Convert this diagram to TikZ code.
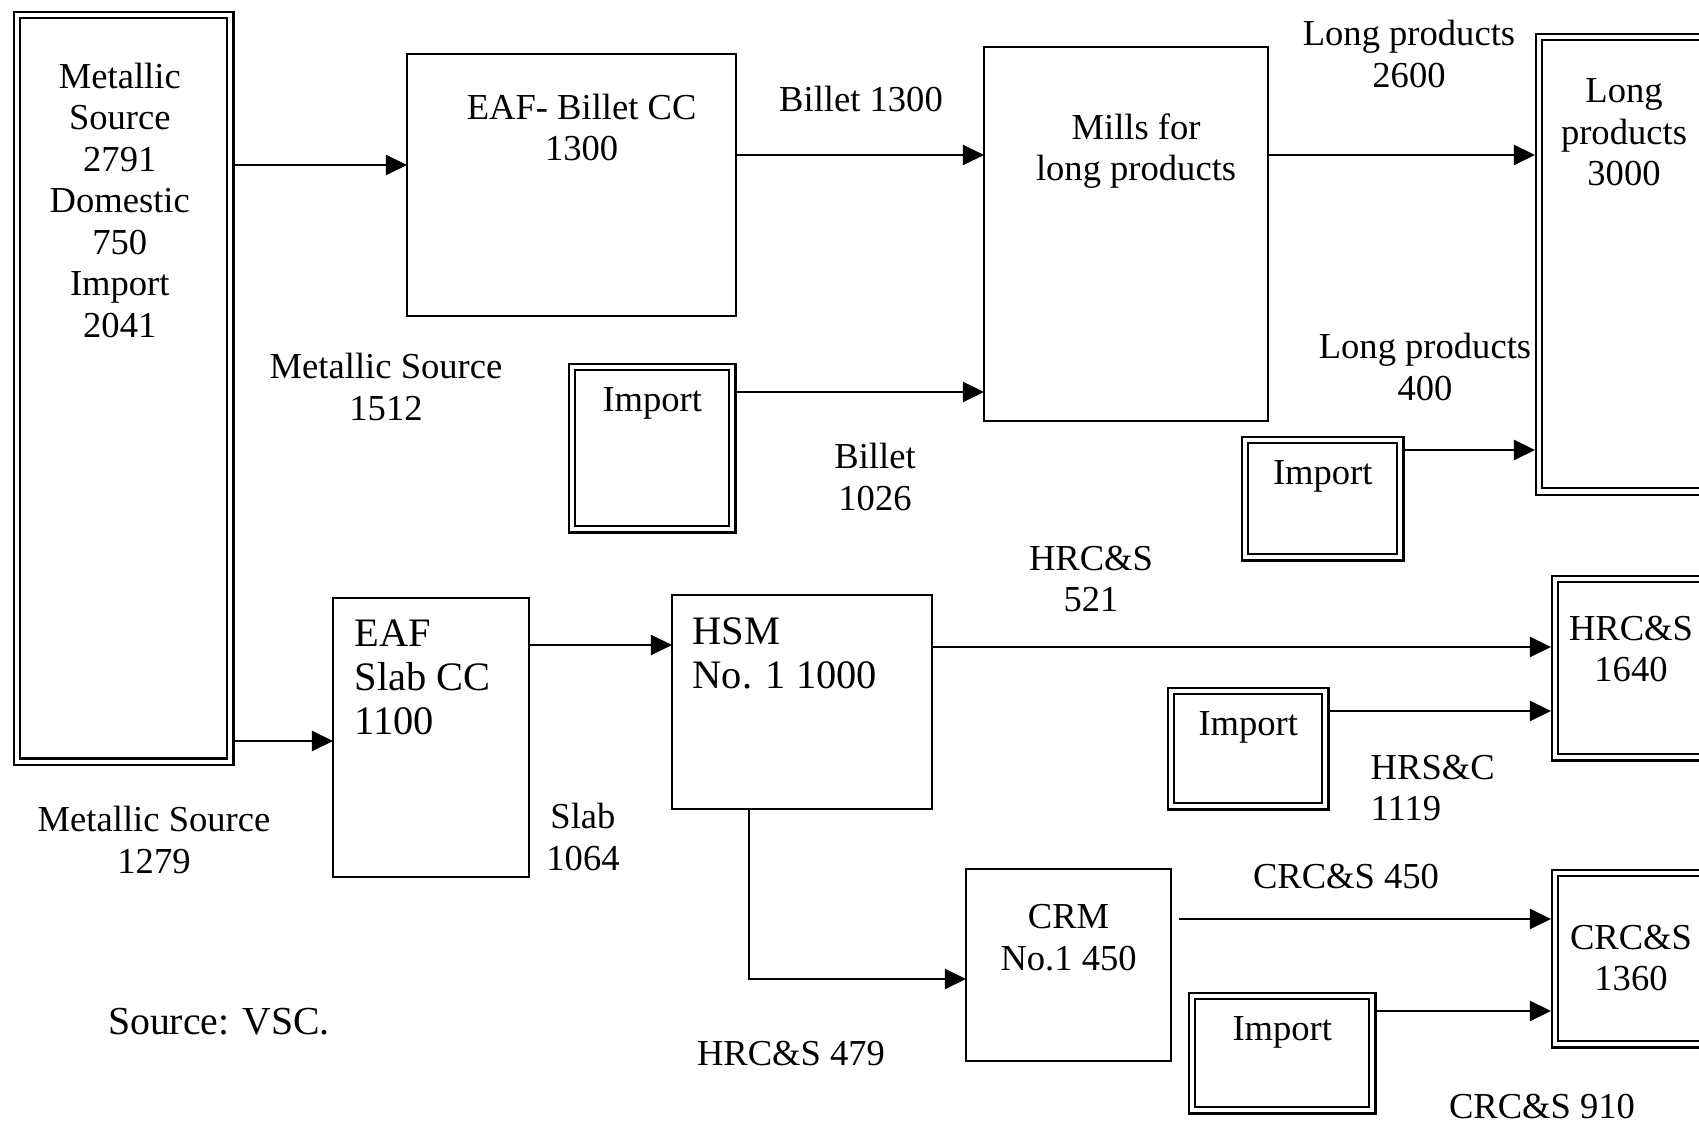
\documentclass[tikz,border=0pt]{standalone}
\usepackage{fontspec}
\setmainfont{Liberation Serif}
\usetikzlibrary{arrows.meta,positioning}
\begin{document}
\begin{tikzpicture}[x=0.01cm,y=-0.01cm,
box/.style={draw,line width=0.6pt,anchor=north west,inner sep=0pt,outer sep=0pt},
dbox/.style={box,double,double distance=1.2pt,outer sep=1.2pt},
txt/.style={align=center,inner sep=0pt,font=\fontsize{10.4}{11.8}\selectfont},
bigtxt/.style={align=left,inner sep=0pt,font=\fontsize{11.5}{12.5}\selectfont},
arr/.style={-{Triangle[length=2.1mm,width=2mm]},line width=0.6pt}]
\useasboundingbox (0,0) rectangle (1699,1125);
\clip (0,0) rectangle (1699,1125);
\node[dbox,minimum width=2.13cm,minimum height=7.46cm](src) at (13,11){};
\node[box,minimum width=3.29cm,minimum height=2.62cm](eafb) at (407,54){};
\node[box,minimum width=2.84cm,minimum height=3.74cm](mills) at (984,47){};
\node[dbox,minimum width=2cm,minimum height=4.54cm](longp) at (1535,33){};
\node[dbox,minimum width=1.6cm,minimum height=1.62cm](imp1) at (568,363){};
\node[dbox,minimum width=1.55cm,minimum height=1.17cm](imp2) at (1241,436){};
\node[box,minimum width=1.96cm,minimum height=2.79cm](eafs) at (333,598){};
\node[box,minimum width=2.6cm,minimum height=2.14cm](hsm) at (672,595){};
\node[box,minimum width=2.05cm,minimum height=1.92cm](crm) at (966,869){};
\node[dbox,minimum width=2cm,minimum height=1.78cm](hrc) at (1551,575){};
\node[dbox,minimum width=1.54cm,minimum height=1.15cm](imp3) at (1167,687){};
\node[dbox,minimum width=2cm,minimum height=1.71cm](crc) at (1551,869){};
\node[dbox,minimum width=1.8cm,minimum height=1.14cm](imp4) at (1188,992){};
\node[txt,below=5.1mm of src.north,xshift=-0.4mm](srct){Metallic\\Source\\2791\\Domestic\\750\\Import\\2041};
\node[txt,below=3.9mm of eafb.north,xshift=1mm](eafbt){EAF- Billet CC\\1300};
\node[txt,below=6.6mm of mills.north,xshift=1mm](millst){Mills for\\long products};
\node[txt,anchor=north](longpt) at (1624,78){Long\\products\\3000};
\node[txt,below=2.4mm of imp1.north](imp1t){Import};
\node[txt,below=2.4mm of imp2.north](imp2t){Import};
\node[bigtxt,below right=2.1mm and 2.1mm of eafs.north west](eafst){EAF\\Slab CC\\1100};
\node[bigtxt,below right=2.2mm and 2mm of hsm.north west](hsmt){HSM\\No. 1 1000};
\node[txt,below=3.5mm of crm.north](crmt){CRM\\No.1 450};
\node[txt,anchor=north](hrct) at (1631,615){HRC\&S\\1640};
\node[txt,below=2.4mm of imp3.north](imp3t){Import};
\node[txt,anchor=north](crct) at (1631,924){CRC\&S\\1360};
\node[txt,below=2.4mm of imp4.north](imp4t){Import};
\node[txt](ms1512) at (386,387){Metallic Source\\1512};
\node[txt](ms1279) at (154,840){Metallic Source\\1279};
\node[txt](bil1300) at (861,99){Billet 1300};
\node[txt](bil1026) at (875,477){Billet\\1026};
\node[txt](lp2600) at (1409,54){Long products\\2600};
\node[txt](lp400) at (1425,367){Long products\\400};
\node[txt](slab) at (583,837){Slab\\1064};
\node[txt](hrc521) at (1091,579){HRC\&S\\521};
\node[txt,align=left,anchor=west](hrsc) at (1370,788){HRS\&C\\1119};
\node[txt](hrc479) at (791,1054){HRC\&S 479};
\node[txt](crc450) at (1346,877){CRC\&S 450};
\node[txt](crc910) at (1542,1107){CRC\&S 910};
\node[txt,font=\fontsize{11.3}{12.5}\selectfont](note) at (219,1022){Source: VSC.};
\draw[arr](src.east|-0,165)--(eafb.west|-0,165);
\draw[arr](src.east|-0,741)--(eafs.west|-0,741);
\draw[arr](eafb.east|-0,155)--(mills.west|-0,155);
\draw[arr](imp1.east|-0,392)--(mills.west|-0,392);
\draw[arr](mills.east|-0,155)--(longp.west|-0,155);
\draw[arr](imp2.east|-0,450)--(longp.west|-0,450);
\draw[arr](eafs.east|-0,645)--(hsm.west|-0,645);
\draw[arr](hsm.east|-0,647)--(hrc.west|-0,647);
\draw[arr](imp3.east|-0,711)--(hrc.west|-0,711);
\draw[arr](hsm.south-|749,0)|-(crm.west|-0,979);
\draw[arr,shorten <=0.8mm](crm.east|-0,919)--(crc.west|-0,919);
\draw[arr](imp4.east|-0,1011)--(crc.west|-0,1011);
\end{tikzpicture}
\end{document}
